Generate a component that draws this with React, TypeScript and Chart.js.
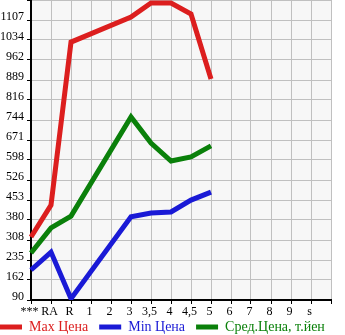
import React, { useEffect, useRef } from "react";
import { Chart, registerables } from "chart.js";

Chart.register(...registerables);

const categories = ["***", "RA", "R", "1", "2", "3", "3,5", "4", "4,5", "5", "6", "7", "8", "9", "s", ""];
const maxPrice = [319, 435, 1027, null, null, 1118, 1169, 1169, 1129, 893, null, null, null, null, null, null];
const minPrice = [199, 264, 95, null, null, 392, 406, 410, 453, 482, null, null, null, null, null, null];
const avgPrice = [261, 352, 395, null, null, 755, 660, 595, 610, 650, null, null, null, null, null, null];
const yTicks = [90, 162.67, 235.33, 308, 380.67, 453.33, 526, 598.67, 671.33, 744, 816.67, 889.33, 962, 1034.67, 1107.33, 1180];
const seriesNames = ["Max Цена", "Min Цена", "Сред.Цена, т.йен"];
const seriesColors = ["#dc1e1e", "#1a1ad6", "#0a800a"];

const LEGEND_PAD = 11;

const bgPlugin = {
  id: "plotBg",
  beforeLayout(chart: any) {
    const lg = chart.legend;
    if (lg && !lg.__patched) {
      const orig = lg.fit;
      lg.fit = function () {
        orig.call(this);
        this.height = 15;
      };
      lg.__patched = true;
    }
  },
  afterLayout(chart: any) {
    const lg = chart.legend;
    if (lg) {
      lg.left = -LEGEND_PAD;
      lg.right = 500;
      lg.top = 309;
    }
  },
  beforeDraw(chart: any) {
    const { ctx, chartArea } = chart;
    ctx.save();
    ctx.fillStyle = "#f7f7f7";
    ctx.fillRect(chartArea.left, chartArea.top, chartArea.right - chartArea.left, chartArea.bottom - chartArea.top);
    ctx.restore();
  },
};

export default function App() {
  const ref = useRef<HTMLCanvasElement | null>(null);
  useEffect(() => {
    if (!ref.current) return;
    const serif = "'Liberation Serif', 'Times New Roman', serif";
    const font = { family: serif, size: 12 };
    const data = [maxPrice, minPrice, avgPrice];
    const chart = new Chart(ref.current, {
      type: "line",
      data: {
        labels: categories,
        datasets: data.map((d, i) => ({
          label: seriesNames[i],
          data: d,
          borderColor: seriesColors[i],
          backgroundColor: seriesColors[i],
          borderWidth: 5,
          pointRadius: 0,
          spanGaps: true,
          tension: 0,
          borderJoinStyle: "miter" as const,
        })),
      },
      plugins: [bgPlugin],
      options: {
        animation: false,
        responsive: false,
        maintainAspectRatio: false,
        layout: { padding: { left: 0, right: 14, top: 0, bottom: 0 } },
        plugins: {
          tooltip: { enabled: false },
          legend: {
            position: "bottom",
            align: "start",
            labels: {
              font: { family: serif, size: 14 },
              usePointStyle: true,
              pointStyle: "line",
              pointStyleWidth: 22,
              boxWidth: 22,
              boxHeight: 6,
              padding: LEGEND_PAD,
              generateLabels(chart: any) {
                return chart.data.datasets.map((ds: any, i: number) => ({
                  text: ds.label,
                  fillStyle: seriesColors[i],
                  strokeStyle: seriesColors[i],
                  fontColor: seriesColors[i],
                  lineWidth: 5,
                  lineCap: "butt",
                  pointStyle: "line",
                  hidden: false,
                  datasetIndex: i,
                }));
              },
            },
          },
        },
        scales: {
          x: {
            type: "category",
            offset: false,
            afterFit(scale: any) {
              scale.height = 20;
            },
            grid: { color: "#c0c0c0", tickColor: "#000", tickLength: 4, lineWidth: 1 },
            border: { color: "#000", width: 2 },
            ticks: { color: "#000", font, autoSkip: false, maxRotation: 0, padding: 1, labelOffset: -1.5 },
          },
          y: {
            type: "linear",
            min: 90,
            max: 1180,
            afterBuildTicks(scale: any) {
              scale.ticks = yTicks.map((v) => ({ value: v }));
            },
            afterFit(scale: any) {
              scale.width = 31;
              scale.paddingTop = 0;
              scale.paddingBottom = 0;
            },
            grid: { color: "#c0c0c0", tickColor: "#000", tickLength: 4, lineWidth: 1 },
            border: { color: "#000", width: 2 },
            ticks: {
              color: "#000",
              font,
              padding: 3,
              labelOffset: -3.5,
              callback(v: any) {
                const n = Number(v);
                if (n >= 1180) return "";
                return String(Math.floor(n + 0.001));
              },
            },
          },
        },
      },
    });
    return () => chart.destroy();
  }, []);
  return (
    <div style={{ position: "fixed", left: 0, top: 0, width: 345, height: 335, background: "#fff" }}>
      <canvas ref={ref} width={345} height={335} style={{ width: 345, height: 335 }} />
    </div>
  );
}
